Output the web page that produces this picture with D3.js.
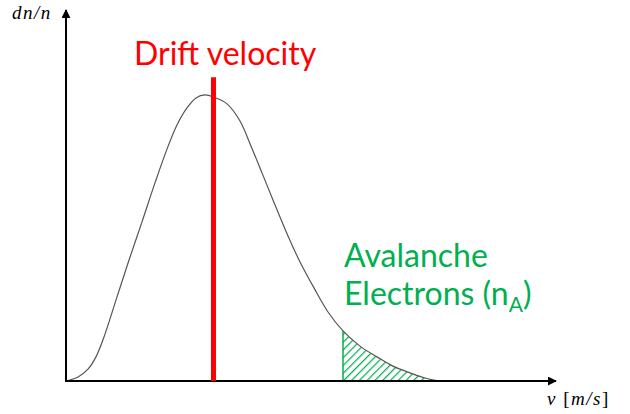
<!DOCTYPE html>
<html>
<head>
<meta charset="utf-8">
<script src="https://d3js.org/d3.v7.min.js"></script>
<style>
    body { margin: 0; background: #fff; }
    .curve { fill: none; stroke: #555; stroke-width: 1.2px; }
    .axis-line { stroke: #000; stroke-width: 2px; }
    .big { font-family: Lato, 'Open Sans', sans-serif; font-size: 32px; }
    .math { font-family: 'Liberation Serif', serif; font-style: italic; font-size: 19px; letter-spacing: 1.5px; }
    .upright { font-style: normal; }
</style>
</head>
<body>
<div id="chart"></div>
<script>
    // velocity (arbitrary units) and dn/n
    var velocity = [0, 0.245, 0.449, 0.612, 0.755, 1.020, 1.286, 1.551, 1.816, 2.061, 2.265, 2.469, 2.653, 2.837, 3.020, 3.286, 3.551, 3.776, 4.000, 4.224, 4.531, 4.776, 5.061, 5.347, 5.653, 6.000, 6.347, 6.673, 7.020, 7.327, 7.633];
    var density = [0, 0.011, 0.032, 0.065, 0.111, 0.218, 0.326, 0.429, 0.534, 0.625, 0.690, 0.736, 0.763, 0.771, 0.765, 0.747, 0.701, 0.633, 0.561, 0.488, 0.391, 0.321, 0.251, 0.186, 0.135, 0.094, 0.065, 0.040, 0.022, 0.008, 0];
    var driftVelocity = 3.01;
    var driftTop = 0.819;
    var avalancheStart = 5.653;
    var labels = { drift: "Drift velocity", aval1: "Avalanche", aval2: "Electrons (n" };

    var width = 630, height = 414;
    var svg = d3.select("#chart").append("svg").attr("width", width).attr("height", height);

    var x = d3.scaleLinear().domain([0, 10]).range([66, 556]);
    var y = d3.scaleLinear().domain([0, 1]).range([381, 10]);

    var pts = velocity.map(function (v, i) { return { v: v, d: density[i] }; });

    var defs = svg.append("defs");
    var pat = defs.append("pattern").attr("id", "hatch").attr("patternUnits", "userSpaceOnUse")
        .attr("width", 5.5).attr("height", 5.5).attr("patternTransform", "rotate(45)");
    pat.append("rect").attr("width", 5.5).attr("height", 5.5).attr("fill", "#fff");
    pat.append("line").attr("x1", 0).attr("y1", 0).attr("x2", 0).attr("y2", 5.5)
        .attr("stroke", "#00B050").attr("stroke-width", 2.4);
    defs.append("clipPath").attr("id", "tail").append("rect")
        .attr("x", x(avalancheStart)).attr("y", 0).attr("width", width).attr("height", y(0));

    var line = d3.line().x(function (d) { return x(d.v); }).y(function (d) { return y(d.d); }).curve(d3.curveCatmullRom);
    var area = d3.area().x(function (d) { return x(d.v); }).y0(y(0)).y1(function (d) { return y(d.d); }).curve(d3.curveCatmullRom);

    // hatched tail
    svg.append("path").attr("d", area(pts)).attr("fill", "url(#hatch)").attr("clip-path", "url(#tail)");
    var startD = density[velocity.indexOf(avalancheStart)];
    svg.append("line").attr("x1", x(avalancheStart)).attr("x2", x(avalancheStart))
        .attr("y1", y(0)).attr("y2", y(startD)).attr("stroke", "#00B050").attr("stroke-width", 1.5);

    svg.append("path").attr("class", "curve").attr("d", line(pts));

    // axes with arrows
    defs.append("marker").attr("id", "arrow").attr("viewBox", "0 0 10 10").attr("refX", 9).attr("refY", 5)
        .attr("markerWidth", 4.5).attr("markerHeight", 4.5).attr("orient", "auto")
        .append("path").attr("d", "M0,0 L10,5 L0,10 z").attr("fill", "#000");
    svg.append("line").attr("class", "axis-line").attr("x1", x(0)).attr("y1", y(0)).attr("x2", x(0)).attr("y2", y(1)).attr("marker-end", "url(#arrow)");
    svg.append("line").attr("class", "axis-line").attr("x1", x(0) - 1).attr("y1", y(0)).attr("x2", x(10)).attr("y2", y(0)).attr("marker-end", "url(#arrow)");

    // drift velocity marker
    svg.append("line").attr("x1", x(driftVelocity)).attr("x2", x(driftVelocity)).attr("y1", y(0)).attr("y2", y(driftTop))
        .attr("stroke", "#FF0000").attr("stroke-width", 5);

    svg.append("text").attr("class", "big").attr("x", 134).attr("y", 65).attr("fill", "#FF0000").text(labels.drift);
    svg.append("text").attr("class", "big").attr("x", 344).attr("y", 267).attr("fill", "#00B050").text(labels.aval1);
    var t2 = svg.append("text").attr("class", "big").attr("x", 344).attr("y", 305).attr("fill", "#00B050");
    t2.append("tspan").text(labels.aval2);
    t2.append("tspan").attr("dy", 7).attr("font-size", "21px").text("A");
    t2.append("tspan").attr("dy", -7).text(")");

    var ty = svg.append("text").attr("class", "math").attr("x", 12).attr("y", 19);
    ty.append("tspan").text("dn/n");
    var tx = svg.append("text").attr("class", "math").attr("x", 547).attr("y", 405);
    tx.append("tspan").text("v ");
    tx.append("tspan").attr("class", "upright").text("[");
    tx.append("tspan").text("m/s");
    tx.append("tspan").attr("class", "upright").text("]");
</script>
</body>
</html>
